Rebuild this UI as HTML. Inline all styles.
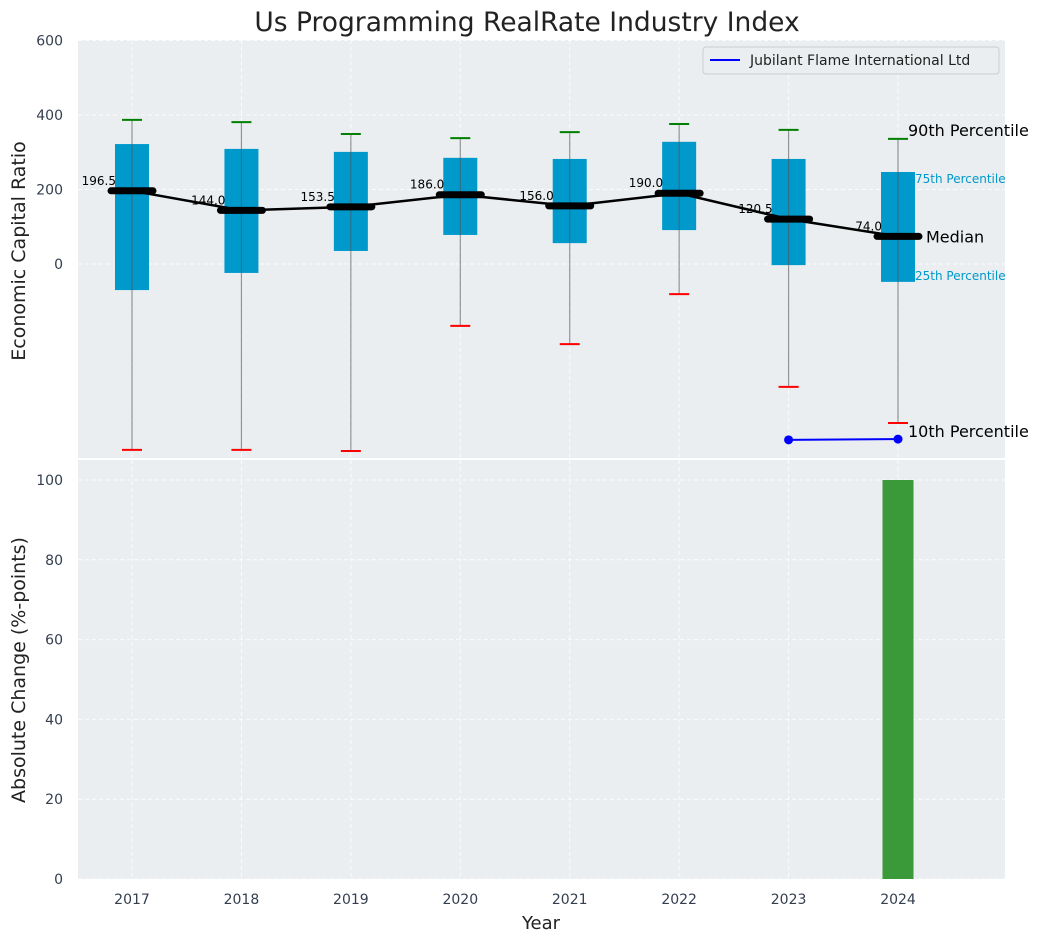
<!DOCTYPE html>
<html><head><meta charset="utf-8"><style>
body{margin:0;background:#fff;font-family:"Liberation Sans","DejaVu Sans",sans-serif}
svg text{font-family:"DejaVu Sans","Liberation Sans",sans-serif}
</style></head><body>
<svg id="c" width="1044" height="942" xmlns="http://www.w3.org/2000/svg"></svg>
<script>
const years=[2017,2018,2019,2020,2021,2022,2023,2024];
const p90=[387,381,349,338,354,376,360,336];
const q75=[322,309,301,285,282,328,282,247];
const medians=[196.5,144.0,153.5,186.0,156.0,190.0,120.5,74.0];
const q25=[-70,-24,35,78,56,91,-3,-48];
const p10=[-499,-499,-502,-166,-215,-81,-330,-427];
const compYears=[2023,2024];
const compVals=[-472,-470];
const barYears=[2024];
const barVals=[100];
const yTicksTop=[0,200,400,600];
const yTicksBot=[0,20,40,60,80,100];

const svg=document.getElementById('c');
const NS='http://www.w3.org/2000/svg';
function el(t,a,p){const e=document.createElementNS(NS,t);for(const k in a)e.setAttribute(k,a[k]);(p||svg).appendChild(e);return e;}
const L=78,R=1005;
const x=v=>132+(v-2017)*109.43;
const yT=v=>264-v*0.3725;
const yB=v=>879-v*3.99;

let e=el('rect',{x:L,y:40,width:R-L,height:418,fill:'#eaeef0'});

e=el('rect',{x:L,y:460,width:R-L,height:419,fill:'#eaeef0'});


years.forEach(v=>{
 el('line',{x1:x(v),x2:x(v),y1:40,y2:458,stroke:'#fff','stroke-dasharray':'4,3','stroke-width':1,opacity:0.8});
 el('line',{x1:x(v),x2:x(v),y1:460,y2:879,stroke:'#fff','stroke-dasharray':'4,3','stroke-width':1,opacity:0.8});
 e=el('text',{x:x(v),y:904,'text-anchor':'middle','font-size':14,fill:'#333e4f'});e.textContent=v;
 
});
yTicksTop.forEach(v=>{
 el('line',{x1:L,x2:R,y1:yT(v),y2:yT(v),stroke:'#fff','stroke-dasharray':'4,3',opacity:0.8});
 e=el('text',{x:63,y:yT(v)+5,'text-anchor':'end','font-size':14,fill:'#333e4f'});e.textContent=v;
 
});
yTicksBot.forEach(v=>{
 el('line',{x1:L,x2:R,y1:yB(v),y2:yB(v),stroke:'#fff','stroke-dasharray':'4,3',opacity:0.8});
 e=el('text',{x:63,y:yB(v)+5,'text-anchor':'end','font-size':14,fill:'#333e4f'});e.textContent=v;
 
});

years.forEach((v,i)=>{
 const cx=x(v);
 e=el('rect',{x:cx-17,y:yT(q75[i]),width:34,height:yT(q25[i])-yT(q75[i]),fill:'#0099cc'});
 
 el('line',{x1:cx,x2:cx,y1:yT(p90[i]),y2:yT(p10[i]),stroke:'#555',opacity:0.6,'stroke-width':1.2});
 e=el('line',{x1:cx-10,x2:cx+10,y1:yT(p90[i]),y2:yT(p90[i]),stroke:'green','stroke-width':2});
 
 e=el('line',{x1:cx-10,x2:cx+10,y1:yT(p10[i]),y2:yT(p10[i]),stroke:'red','stroke-width':2});
 
});
e=el('polyline',{points:years.map((v,i)=>x(v)+','+yT(medians[i])).join(' '),fill:'none',stroke:'#000','stroke-width':2.5});

years.forEach((v,i)=>{
 e=el('line',{x1:x(v)-21,x2:x(v)+21,y1:yT(medians[i]),y2:yT(medians[i]),stroke:'#000','stroke-width':7,'stroke-linecap':'round'});
 
 e=el('text',{x:x(v)-16,y:yT(medians[i])-6,'text-anchor':'end','font-size':12,fill:'#000'});e.textContent=medians[i].toFixed(1);
 
});
e=el('polyline',{points:compYears.map((v,i)=>x(v)+','+yT(compVals[i])).join(' '),fill:'none',stroke:'blue','stroke-width':2});

compYears.forEach((v,i)=>{e=el('circle',{cx:x(v),cy:yT(compVals[i]),r:4.5,fill:'blue'});
 });

const li=years.length-1, lx=x(years[li]);
function ann(t,xx,yy,fs,col,n){const e=el('text',{x:xx,y:yy,'font-size':fs,fill:col});e.textContent=t;}
ann('90th Percentile',lx+10,yT(p90[li])-3,16,'#000','p90-annotation');
ann('75th Percentile',lx+17,yT(q75[li])+11,12,'#0099cc','q75-annotation');
ann('Median',lx+28,yT(medians[li])+6,16,'#000','median-annotation');
ann('25th Percentile',lx+17,yT(q25[li])-2,12,'#0099cc','q25-annotation');
ann('10th Percentile',lx+10,yT(p10[li])+14,16,'#000','p10-annotation');

barYears.forEach((v,i)=>{e=el('rect',{x:x(v)-15.5,y:yB(barVals[i]),width:31,height:yB(0)-yB(barVals[i]),fill:'#3a9a3a'});
 });

const g=el('g',{});
el('rect',{x:703,y:47,width:296,height:27,rx:3,fill:'#eaeef0',stroke:'#ccc'},g);
el('line',{x1:710,x2:740,y1:60,y2:60,stroke:'blue','stroke-width':2},g);
e=el('text',{x:750,y:65,'font-size':14,fill:'#222'},g);e.textContent='Jubilant Flame International Ltd';

ann('Us Programming RealRate Industry Index',527,31,26.5,'#222','chart-title');svg.lastChild.setAttribute('text-anchor','middle');
ann('Year',541,929,18,'#222','x-axis-title');svg.lastChild.setAttribute('text-anchor','middle');
e=el('text',{x:0,y:0,'font-size':19,fill:'#222','text-anchor':'middle',transform:'translate(25,251) rotate(-90)'});e.textContent='Economic Capital Ratio';

e=el('text',{x:0,y:0,'font-size':19,fill:'#222','text-anchor':'middle',transform:'translate(25,670) rotate(-90)'});e.textContent='Absolute Change (%-points)';

</script>
</body></html>
